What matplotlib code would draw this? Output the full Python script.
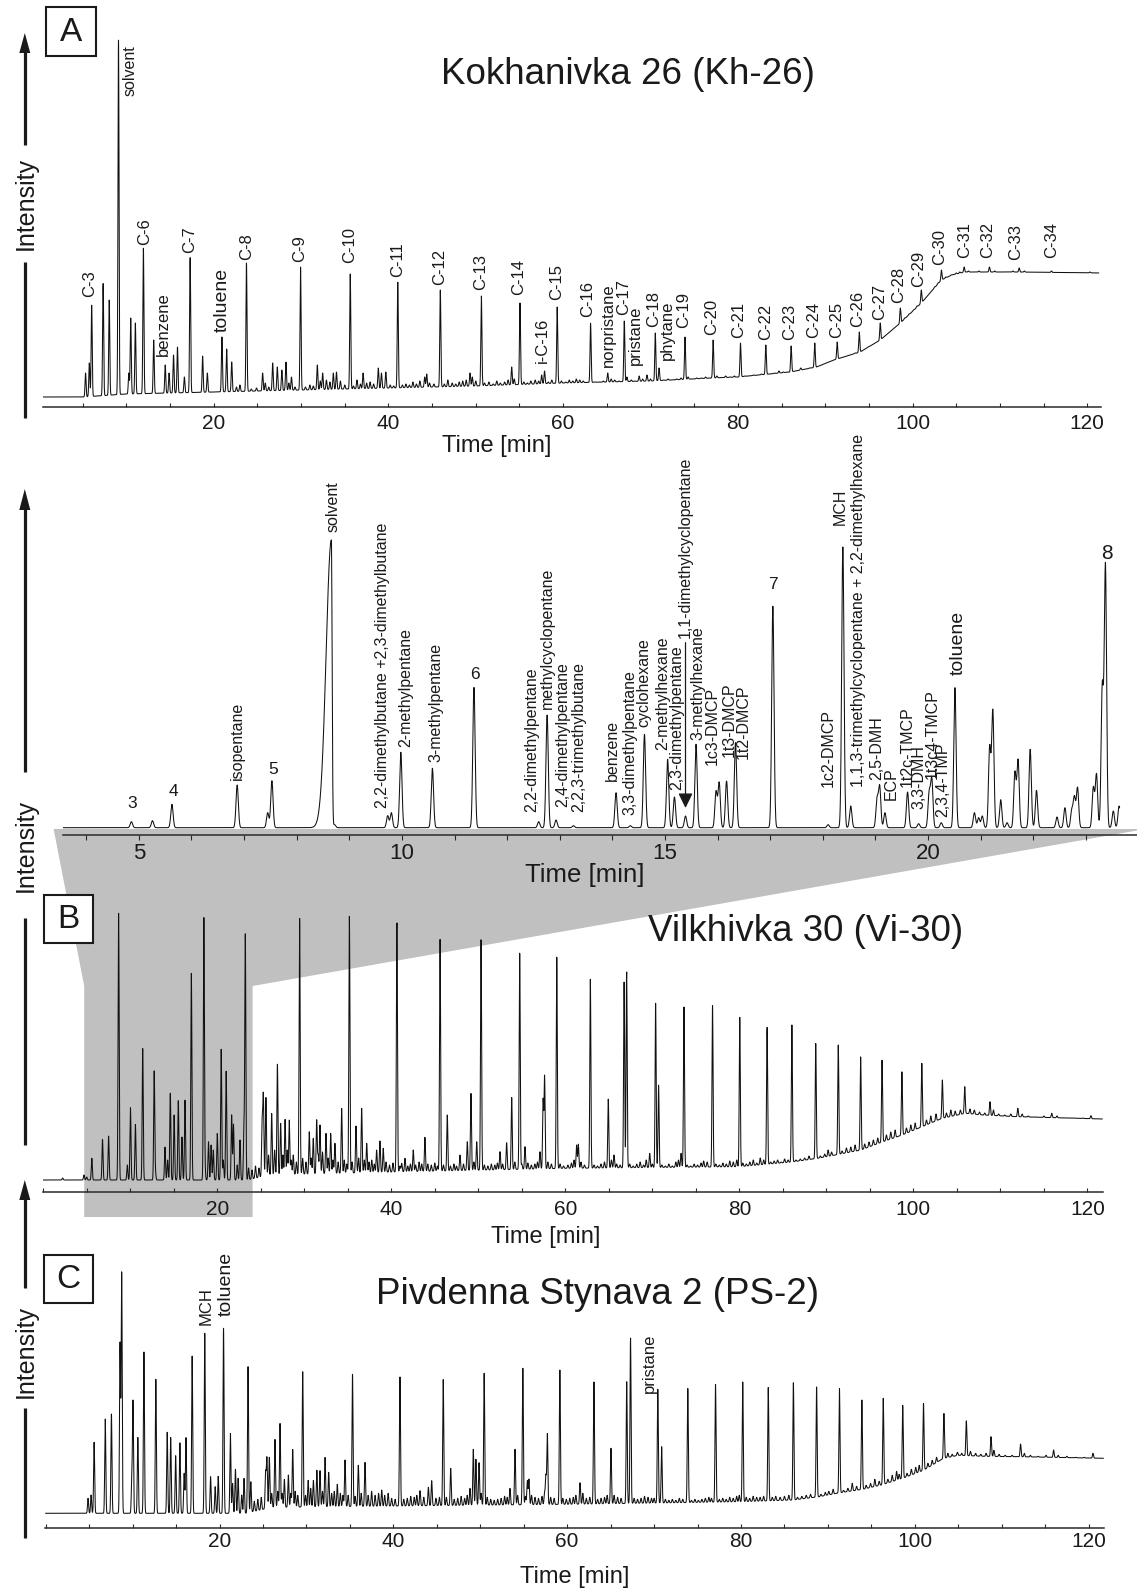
import numpy as np
import matplotlib
matplotlib.use("Agg")
import matplotlib.pyplot as plt
from matplotlib.patches import Polygon, Rectangle
from matplotlib.lines import Line2D
from matplotlib.ticker import MultipleLocator

W, H = 1137, 1591
INK = '#1a1a1a'
GREY = '#c0c0c0'
plt.rcParams['font.family'] = ['Liberation Sans', 'DejaVu Sans']

# ---------------------------------------------------------------- data
# peaks: (retention time [min], apex intensity [a.u.]); baselines: (time, level)
A_PEAKS = [
    (5.33, 24), (5.76, 34), (6.03, 92), (7.34, 114), (8.04, 97), (9.10, 357), (10.28, 24), (10.5, 79),
    (11.03, 74), (11.95, 149), (13.13, 57), (14.45, 32), (14.89, 24), (15.4, 42), (15.85, 50), (16.64, 20),
    (17.3, 140), (18.73, 41), (19.27, 24), (20.94, 60), (21.48, 48), (22.06, 35), (22.6, 10), (23.0, 12),
    (23.75, 134), (24.3, 8), (24.9, 9), (25.6, 24), (25.9, 14), (26.3, 10), (26.75, 34), (27.28, 30),
    (27.8, 27), (28.27, 35), (28.6, 14), (28.9, 20), (29.3, 10), (29.94, 130), (30.5, 10), (31.0, 12),
    (31.4, 11), (31.86, 32), (32.2, 16), (32.47, 24), (32.9, 17), (33.3, 15), (33.69, 24), (34.05, 25),
    (34.5, 16), (35.0, 12), (35.63, 123), (36.0, 11), (36.4, 17), (36.8, 13), (37.1, 24), (37.5, 14),
    (37.9, 15), (38.3, 13), (38.84, 29), (39.2, 24), (39.7, 25), (40.2, 12), (40.6, 11), (41.07, 115),
    (41.6, 12), (42.0, 13), (42.4, 12), (42.8, 15), (43.2, 13), (43.6, 16), (44.15, 20), (44.38, 23),
    (44.7, 14), (45.2, 13), (45.94, 107), (46.4, 13), (46.8, 17), (47.3, 14), (47.7, 13), (48.1, 15),
    (48.5, 16), (48.9, 17), (49.34, 24), (49.6, 20), (50.0, 16), (50.64, 101), (51.0, 14), (51.5, 15),
    (52.0, 13), (52.4, 16), (52.8, 14), (53.3, 15), (53.7, 17), (54.11, 30), (54.4, 18), (55.06, 94),
    (55.5, 15), (55.9, 14), (56.3, 16), (56.8, 17), (57.2, 16), (57.54, 22), (57.87, 26), (58.3, 15),
    (58.7, 17), (59.32, 90), (59.8, 16), (60.3, 15), (60.7, 17), (61.1, 16), (61.5, 18), (61.9, 17),
    (62.3, 16), (63.14, 74), (63.6, 15), (64.1, 15), (64.6, 16), (65.1, 24), (65.5, 18), (65.9, 17),
    (66.4, 16), (67.0, 76), (67.3, 20), (67.8, 17), (68.2, 16), (68.7, 21), (69.1, 18), (69.6, 22),
    (70.0, 18), (70.55, 64), (70.98, 29), (71.5, 17), (72.0, 18), (72.5, 17), (73.0, 18), (73.5, 19),
    (73.95, 60), (74.3, 20), (74.8, 18), (75.3, 19), (75.8, 19), (76.3, 20), (76.7, 19), (77.17, 57),
    (77.6, 21), (78.1, 19), (78.6, 21), (79.1, 20), (79.6, 21), (80.3, 54), (80.8, 21), (81.3, 21),
    (81.8, 22), (82.3, 22), (82.7, 23), (83.2, 52), (83.7, 23), (84.2, 24), (84.7, 26), (85.2, 25),
    (85.6, 25), (86.1, 51), (86.6, 26), (87.2, 29), (87.7, 28), (88.2, 29), (88.8, 54), (89.3, 31),
    (89.8, 32), (90.3, 33), (90.8, 35), (91.37, 55), (91.9, 38), (92.4, 40), (92.9, 42), (93.4, 44),
    (93.9, 65), (94.4, 47), (94.9, 50), (95.4, 52), (95.9, 55), (96.3, 74), (96.8, 60), (97.3, 63),
    (97.8, 68), (98.2, 71), (98.6, 89), (99.1, 79), (99.6, 83), (100.1, 87), (100.5, 91), (101.0, 107),
    (101.5, 98), (102.0, 104), (102.5, 110), (102.9, 114), (103.3, 127), (103.8, 120), (104.4, 122),
    (105.0, 124), (105.4, 125), (105.9, 130), (106.4, 126), (107.0, 125), (107.6, 126), (108.2, 125),
    (108.8, 130), (109.4, 126), (110.0, 125), (110.8, 125), (111.5, 126), (112.2, 129), (112.8, 126),
    (113.5, 124), (114.3, 124), (115.2, 124), (115.9, 126), (116.6, 124), (117.5, 123), (118.5, 123),
    (119.5, 124), (120.3, 125), (121.0, 124),
]
A_BASE = [(0, 0), (5, 0), (10, 3), (20, 5), (30, 7), (40, 9), (50, 11), (60, 14), (70, 16), (77, 19),
          (80, 20), (86, 25), (89, 30), (91, 37), (94, 45), (96.3, 57), (98.6, 74), (101, 94), (103.3, 117),
          (104.5, 122), (106, 125), (112, 125), (121.8, 124)]
A_LABELS = ['C-3', 'C-6', 'benzene', 'C-7', 'toluene', 'C-8', 'C-9', 'C-10', 'C-11', 'C-12', 'C-13',
            'C-14', 'i-C-16', 'C-15', 'C-16', 'norpristane', 'C-17', 'pristane', 'C-18', 'phytane', 'C-19',
            'C-20', 'C-21', 'C-22', 'C-23', 'C-24', 'C-25', 'C-26', 'C-27', 'C-28', 'C-29', 'C-30', 'C-31',
            'C-32', 'C-33', 'C-34']
A_LABEL_AT = [(5.83, 100), (12.1, 152), (14.29, 41), (17.22, 144), (20.95, 65), (23.79, 137), (29.84, 135),
              (35.53, 134), (41.09, 120), (45.9, 112), (50.52, 107), (54.9, 102), (57.66, 34), (59.27, 97),
              (62.77, 80), (65.13, 30), (66.98, 82), (68.27, 32), (70.41, 70), (71.91, 37), (73.8, 69),
              (77.0, 62), (80.13, 59), (83.22, 57), (85.92, 57), (88.71, 59), (91.28, 59), (93.76, 70),
              (96.21, 77), (98.35, 94), (100.71, 110), (103.15, 132), (105.98, 139), (108.63, 139),
              (111.77, 137), (115.92, 139)]
A_SOLVENT_AT = (10.43, 352)

# zoomed early part of Vilkhivka 30
IN_PEAKS = [
    (4.86, 6), (5.26, 7), (5.63, 23.4), (6.87, 42.7), (7.45, 15), (7.53, 47), (8.72, 3), (9.73, 12),
    (9.80, 15), (9.98, 75.4), (10.58, 59.4), (11.37, 140.4), (12.6, 6), (12.76, 112.7), (12.93, 7.7),
    (13.26, 2), (14.07, 35), (14.34, 2), (14.61, 93.4), (15.05, 68.4), (15.18, 30.7), (15.39, 11.7),
    (15.59, 83.4), (15.97, 36), (16.03, 45), (16.17, 46.7), (16.34, 85), (17.05, 221.7), (18.1, 3),
    (18.38, 280.7), (18.53, 21.7), (19.03, 28), (19.08, 40.7), (19.18, 15), (19.61, 35.7), (19.82, 4),
    (20.02, 34), (20.07, 48.4), (20.25, 5), (20.51, 140), (20.88, 15), (20.96, 10), (21.03, 11.7),
    (21.17, 80), (21.23, 116.7), (21.38, 28), (21.5, 5), (21.65, 55), (21.71, 67.4), (21.94, 78.4),
    (22.06, 37.4), (22.45, 10.7), (22.6, 20), (22.73, 17), (22.78, 30), (22.84, 40), (23.14, 40),
    (23.2, 53.4), (23.31, 140), (23.37, 261.7), (23.52, 16.7), (23.63, 21.7),
]
IN_SOLVENT = (8.66, 287.7)
IN_NUMBERS = ['3', '4', '5', '6', '7', '8']
IN_NUMBER_AT = [(4.87, 24), (5.65, 36), (7.55, 58), (11.38, 153), (17.06, 243), (23.39, 274)]
IN_LABELS = ['isopentane', 'solvent', '2,2-dimethylbutane +2,3-dimethylbutane', '2-methylpentane',
             '3-methylpentane', '2,2-dimethylpentane', 'methylcyclopentane', '2,4-dimethylpentane',
             '2,2,3-trimethylbutane', 'benzene', '3,3-dimethylpentane', 'cyclohexane', '2-methylhexane',
             '2,3-dimethylpentane', '1,1-dimethylcyclopentane', '3-methylhexane', '1c3-DMCP', '1t3-DMCP',
             '1t2-DMCP', '1c2-DMCP', 'MCH', '1,1,3-trimethylcyclopentane + 2,2-dimethylhexane', '2,5-DMH',
             'ECP', '1t2c-TMCP', '3,3-DMH', '1t3c4-TMCP', '2,3,4-TMP', 'toluene']
IN_LABEL_AT = [(6.87, 48), (8.69, 296), (9.64, 20), (10.07, 81), (10.65, 66), (12.47, 16), (12.76, 119),
               (13.05, 21), (13.36, 16), (14.01, 47), (14.34, 13), (14.59, 101), (14.95, 78), (15.22, 38),
               (15.39, 190), (15.62, 88), (15.89, 63), (16.22, 71), (16.48, 69), (18.11, 41), (18.33, 303),
               (18.68, 41), (19.02, 48), (19.30, 28), (19.61, 41), (19.82, 19), (20.08, 49), (20.28, 11),
               (20.57, 153)]
IN_ARROW = (15.39, 185, 19.7)   # time, from, to

B_PEAKS = [
    (2.24, 2), (4.69, 5), (5.0, 3), (5.59, 21.7), (6.82, 40.7), (7.52, 44), (8.67, 268), (9.67, 15),
    (10.03, 72.3), (10.6, 55.7), (11.44, 131.7), (12.76, 109), (12.9, 7), (14.0, 33), (14.3, 20),
    (14.61, 87.3), (15.05, 65), (15.53, 79.3), (15.95, 43), (16.3, 80), (17.03, 206.7), (18.47, 261.7),
    (18.6, 10), (19.0, 38.3), (19.3, 35), (19.55, 30), (20.01, 46.7), (20.46, 130.7), (20.7, 20),
    (21.03, 109.3), (21.66, 65), (21.87, 56), (22.3, 15), (22.62, 40), (23.07, 50.7), (23.23, 245),
    (23.6, 12), (24.0, 10), (24.4, 14), (24.8, 12), (25.16, 56.7), (25.3, 84), (25.6, 82.7), (25.9, 25),
    (26.26, 66.7), (26.6, 30), (26.92, 116), (27.29, 56.7), (27.55, 25), (27.8, 60.7), (28.05, 30),
    (28.28, 60), (28.5, 20), (28.74, 25), (29.1, 18), (29.47, 261.7), (29.82, 21.7), (30.2, 18),
    (30.58, 48.3), (30.8, 22), (31.04, 41.7), (31.43, 60), (31.6, 25), (31.81, 55), (32.1, 28),
    (32.5, 46.7), (32.75, 22), (33.04, 46.7), (33.3, 20), (33.53, 36.7), (33.9, 18), (34.3, 71.7),
    (34.6, 20), (34.9, 16), (35.19, 265), (35.5, 18), (35.95, 54), (36.25, 22), (36.6, 71.7), (36.9, 20),
    (37.18, 36.7), (37.45, 18), (37.76, 20), (38.05, 16), (38.32, 30), (38.7, 39), (39.08, 31.7),
    (39.4, 18), (39.8, 15), (40.2, 17), (40.65, 258.3), (41.0, 14), (41.2, 16.7), (41.58, 21.7),
    (41.9, 14), (42.2, 16), (42.53, 30), (42.8, 15), (43.2, 18), (43.5, 16), (43.87, 42.7), (44.2, 16),
    (44.6, 15), (45.0, 17), (45.3, 14), (45.61, 240.7), (46.0, 15), (46.44, 65), (46.8, 14), (47.2, 16),
    (47.5, 14), (47.9, 25), (48.3, 16), (48.74, 38.3), (49.16, 86.7), (49.5, 18), (49.82, 38.3),
    (50.32, 240.7), (50.7, 15), (51.1, 14), (51.5, 16), (51.9, 15), (52.2, 17), (52.5, 28.3), (52.8, 16),
    (53.26, 37.3), (53.84, 82.7), (54.2, 18), (54.76, 227.3), (55.0, 16), (55.37, 33.3), (55.7, 17),
    (56.1, 15), (56.5, 16), (56.8, 18), (57.09, 28.3), (57.45, 80), (57.62, 104), (58.0, 18), (58.4, 16),
    (59.02, 223.3), (59.4, 16), (59.8, 14), (60.3, 15), (60.7, 17), (61.0, 20), (61.3, 35), (61.5, 35.7),
    (61.8, 18), (62.2, 15), (62.88, 200.7), (63.3, 15), (63.7, 14), (64.1, 16), (64.5, 18), (64.94, 81),
    (65.3, 20), (65.6, 25), (65.9, 16), (66.3, 15), (66.76, 198.3), (67.05, 209), (67.4, 16), (67.8, 14),
    (68.2, 16), (68.6, 18), (69.0, 15), (69.3, 20), (69.7, 26.7), (70.0, 16), (70.38, 176.7),
    (70.72, 95), (71.1, 15), (71.5, 14), (71.9, 16), (72.3, 14), (72.7, 18), (73.0, 20), (73.3, 26.7),
    (73.64, 173.3), (74.0, 15), (74.4, 14), (74.8, 16), (75.2, 15), (75.6, 17), (75.9, 19), (76.3, 18),
    (76.92, 174.3), (77.3, 16), (77.7, 15), (78.1, 17), (78.5, 16), (78.9, 19), (79.3, 18), (79.7, 20),
    (80.05, 162.7), (80.4, 17), (80.8, 16), (81.2, 18), (81.6, 20), (82.0, 17), (82.4, 22), (82.8, 20),
    (83.19, 153.3), (83.6, 18), (84.0, 19), (84.4, 20), (84.8, 18), (85.2, 21), (85.6, 20), (86.04, 155),
    (86.5, 20), (87.0, 21), (87.5, 22), (88.0, 24), (88.78, 136.7), (89.3, 24), (89.8, 26), (90.2, 30),
    (90.6, 28), (91.37, 135), (91.8, 29), (92.3, 32), (92.8, 33), (93.3, 35), (93.94, 123.3), (94.4, 36),
    (94.9, 38), (95.4, 40), (95.9, 42), (96.4, 120), (96.9, 45), (97.4, 48), (97.9, 50), (98.68, 108.3),
    (99.2, 52), (99.7, 55), (100.2, 57), (100.97, 116.7), (101.5, 60), (102.0, 64), (102.6, 66),
    (103.33, 100), (103.8, 67), (104.3, 70), (104.8, 69), (105.4, 70), (105.9, 93.3), (106.5, 71),
    (107.0, 70), (107.6, 68), (108.2, 67), (108.8, 78.3), (109.2, 70), (109.8, 66), (110.5, 65),
    (111.2, 66), (112.0, 71.7), (112.5, 66), (113.2, 64), (114.0, 63), (115.0, 64), (115.9, 66.7),
    (116.5, 64), (117.5, 62), (118.5, 62), (119.5, 62), (120.4, 64.3),
]
B_BASE = [(0, 0), (23.5, 0), (26, 5), (40, 8), (60, 11.7), (80, 13.3), (86, 18), (89, 21.7), (91, 25),
          (94, 30), (96, 36.7), (98.7, 45), (101, 53.3), (103.3, 61.7), (106, 66.7), (108, 65),
          (112, 63.3), (121.8, 61)]

C_PEAKS = [
    (4.87, 15), (5.22, 18.3), (5.57, 71), (6.85, 94.3), (7.56, 99.3), (8.55, 170), (8.74, 240.6),
    (9.9, 30), (10.04, 111.6), (10.6, 76), (11.3, 161.6), (12.67, 134), (13.98, 81), (14.38, 76),
    (14.95, 57.6), (15.44, 70.6), (15.93, 40), (16.14, 75.6), (16.85, 157.3), (18.3, 180), (18.97, 36.6),
    (19.5, 26.6), (19.85, 37), (20.46, 185), (21.25, 80), (21.5, 30), (21.83, 44), (22.14, 35),
    (22.55, 18.3), (22.82, 35), (23.28, 146.6), (23.6, 31.6), (24.0, 12), (24.4, 14), (24.8, 16),
    (25.3, 40.6), (25.45, 55), (25.73, 56), (26.0, 20), (26.38, 74), (26.7, 22), (26.96, 90), (27.2, 20),
    (27.46, 34), (27.92, 38.3), (28.2, 20), (28.42, 64), (28.7, 22), (29.0, 18), (29.57, 141.6),
    (29.9, 18), (30.2, 33), (30.49, 25), (30.8, 33), (31.2, 43), (31.56, 42.6), (31.85, 22), (32.14, 56),
    (32.56, 41), (32.9, 20), (33.2, 22), (33.55, 29), (33.9, 20), (34.2, 18), (34.44, 53.3), (34.8, 18),
    (35.3, 139.3), (35.6, 17), (35.97, 48.3), (36.3, 20), (36.74, 51), (37.1, 18), (37.5, 22), (37.9, 18),
    (38.3, 20), (38.66, 23.3), (39.0, 18), (39.4, 20), (39.8, 15), (40.2, 14), (40.76, 136.6), (41.2, 14),
    (41.6, 15), (42.0, 17), (42.4, 16), (42.7, 18), (43.07, 22.6), (43.5, 16), (44.03, 26), (44.41, 32.6),
    (44.9, 15), (45.3, 16), (45.74, 134), (46.1, 16), (46.6, 45), (47.0, 14), (47.4, 15), (47.8, 17),
    (48.2, 15), (48.5, 18), (48.82, 25), (49.2, 64), (49.5, 54), (49.86, 50.6), (50.1, 20), (50.45, 140),
    (50.8, 16), (51.2, 14), (51.6, 13), (52.0, 14), (52.4, 15), (52.8, 17), (53.1, 16), (53.42, 25),
    (54.0, 64), (54.3, 18), (54.9, 145), (55.2, 17), (55.42, 32.6), (55.6, 34), (55.9, 18), (56.3, 16),
    (56.7, 15), (57.1, 17), (57.4, 20), (57.55, 37.3), (57.72, 79.3), (58.1, 16), (58.5, 15),
    (59.16, 143.3), (59.5, 15), (59.9, 14), (60.3, 15), (60.7, 16), (61.0, 18), (61.48, 30.6), (61.8, 20),
    (62.2, 15), (62.6, 16), (63.08, 131.6), (63.5, 14), (63.9, 15), (64.3, 16), (64.6, 18), (65.04, 65),
    (65.4, 18), (65.8, 16), (66.2, 15), (66.85, 131.6), (67.29, 176), (67.7, 15), (68.1, 14), (68.5, 15),
    (68.9, 17), (69.3, 16), (69.7, 15), (70.0, 15), (70.43, 124), (70.87, 66.6), (71.3, 14), (71.7, 13),
    (72.1, 14), (72.5, 13), (72.9, 15), (73.3, 14), (73.88, 125), (74.3, 13), (74.7, 14), (75.1, 13),
    (75.5, 14), (75.9, 15), (76.3, 16), (76.6, 15), (77.07, 129.3), (77.5, 14), (77.9, 15), (78.3, 14),
    (78.7, 16), (79.1, 15), (79.5, 17), (79.8, 18), (80.2, 131.6), (80.6, 16), (81.0, 15), (81.4, 17),
    (81.8, 16), (82.2, 16), (82.6, 17), (83.14, 126), (83.6, 16), (84.0, 17), (84.5, 16), (85.0, 17),
    (85.5, 18), (86.03, 130.6), (86.5, 16), (87.0, 17), (87.5, 18), (88.0, 19), (88.7, 126.6), (89.2, 19),
    (89.7, 21), (90.1, 22), (90.6, 24), (91.33, 125), (91.8, 23), (92.3, 25), (92.8, 30), (93.3, 27),
    (93.91, 113.3), (94.4, 28), (94.9, 30), (95.4, 34), (95.9, 32), (96.37, 115), (96.9, 34), (97.4, 38),
    (97.9, 42), (98.2, 39), (98.61, 108.3), (99.1, 40), (99.6, 44), (100.1, 46), (100.5, 48), (101.0, 110),
    (101.5, 50), (102.0, 53), (102.5, 56), (103.35, 100), (103.8, 60), (104.3, 59), (104.9, 61),
    (105.4, 60), (105.93, 92.6), (106.4, 62), (107.0, 60), (107.6, 59), (108.2, 60), (108.77, 76.6),
    (109.1, 63), (109.7, 59), (110.4, 58), (111.2, 58), (112.17, 69.3), (112.6, 60), (113.3, 58),
    (114.2, 57), (115.1, 58), (115.97, 63.3), (116.5, 58), (117.5, 57), (118.5, 56), (119.5, 56),
    (120.5, 60),
]
C_BASE = [(0, 0), (23, 0), (26, 6), (40, 7.3), (60, 9), (80, 11.6), (86, 13.3), (89, 16.6), (91, 20),
          (94, 24), (96, 28), (98.6, 35), (101, 43), (103.3, 55), (105, 58), (108, 57), (112, 56.6),
          (121.8, 55)]
C_LABELS = ['MCH', 'toluene']
C_LABEL_AT = [(18.43, 188), (20.72, 197)]
C_PRISTANE_AT = (68.58, 180)

TITLES = ['Kokhanivka 26 (Kh-26)', 'Vilkhivka 30 (Vi-30)', 'Pivdenna Stynava 2 (PS-2)']
PANEL_TAGS = ['A', 'B', 'C']


# ---------------------------------------------------------------- helpers
def fx(x):
    return x / W


def fy(y):
    return 1 - y / H


def axes_px(fig, left, right, top, bottom):
    ax = fig.add_axes([fx(left), fy(bottom), (right - left) / W, (bottom - top) / H])
    ax.set_facecolor('none')
    for side in ('top', 'left', 'right'):
        ax.spines[side].set_visible(False)
    ax.spines['bottom'].set_color('#2a2a2a')
    ax.spines['bottom'].set_linewidth(1.1)
    ax.set_yticks([])
    return ax


def chromatogram(t, peaks, base, sigma):
    bt, bh = zip(*base)
    y = np.interp(t, bt, bh)
    for pt, ph in peaks:
        amp = ph - np.interp(pt, bt, bh)
        if amp > 0:
            y = y + amp * np.exp(-0.5 * ((t - pt) / sigma) ** 2)
    return y


def main_axis(ax, xlim, ylim, pad):
    ax.set_xlim(*xlim)
    ax.set_ylim(*ylim)
    ax.xaxis.set_minor_locator(MultipleLocator(5))
    ax.set_xticks([20, 40, 60, 80, 100, 120])
    ax.tick_params(axis='x', which='both', direction='in', length=3, width=0.8,
                   color='#2a2a2a', labelsize=15, labelcolor=INK, pad=pad)


def rot_labels(ax, texts, spots, size=11.5, va='bottom'):
    for s, (t, h) in zip(texts, spots):
        fs = 14 if s == 'toluene' else size
        ax.text(t, h, s, rotation=90, ha='center', va=va, fontsize=fs, color=INK)


def fig_line(fig, x, y0, y1, lw=2.3):
    fig.add_artist(Line2D([fx(x), fx(x)], [fy(y0), fy(y1)], transform=fig.transFigure,
                          color=INK, lw=lw, solid_capstyle='butt'))


def fig_head(fig, x, tip, base, half=5.5):
    fig.add_artist(Polygon([(fx(x), fy(tip)), (fx(x - half), fy(base)), (fx(x + half), fy(base))],
                           closed=True, transform=fig.transFigure, facecolor=INK, edgecolor='none'))


def tag_box(fig, letter, left, top, right, bottom):
    fig.add_artist(Rectangle((fx(left), fy(bottom)), (right - left) / W, (bottom - top) / H,
                             transform=fig.transFigure, facecolor='white', edgecolor=INK,
                             lw=1.5, zorder=3))
    fig.text(fx((left + right) / 2), fy((top + bottom) / 2 + 1), letter, ha='center', va='center',
             fontsize=24, color=INK, zorder=4)


fig = plt.figure(figsize=(W / 100, H / 100), dpi=100)

# grey zoom funnel between the inset and the B panel
funnel = [(53.6, 829), (1137, 829), (1137, 830.5), (252.6, 986), (252.6, 1217),
          (84.2, 1217), (84.2, 986)]
fig.add_artist(Polygon([(fx(x), fy(y)) for x, y in funnel], closed=True, transform=fig.transFigure,
                       facecolor=GREY, edgecolor='none', zorder=-10))

# ---------------------------------------------------------------- panel A
axA = axes_px(fig, 42.9, 1101, 30, 407)
main_axis(axA, (0.446, 121.57), (-10, 367), pad=5)
tA = np.arange(0.446, 121.3, 0.012)
axA.plot(tA, chromatogram(tA, A_PEAKS, A_BASE, 0.06), color='#111111', lw=0.75)
rot_labels(axA, A_LABELS, A_LABEL_AT, size=12)
axA.text(*A_SOLVENT_AT, 'solvent', rotation=90, ha='center', va='top', fontsize=11.5, color=INK)

# ---------------------------------------------------------------- inset (early part of B)
axI = axes_px(fig, 63, 1137, 480, 835)
axI.set_xlim(3.56, 23.97)
axI.set_ylim(-7.3, 347.7)
axI.set_xticks([5, 10, 15, 20])
axI.xaxis.set_minor_locator(MultipleLocator(1))
axI.tick_params(axis='x', which='both', direction='out', length=3.6, width=0.8, color='#2a2a2a',
                labelsize=16, labelcolor=INK, pad=2.5)
tI = np.arange(3.56, 23.64, 0.003)
yI = chromatogram(tI, IN_PEAKS, [(3.56, 0), (23.97, 0)], 0.022)
s0, h0 = IN_SOLVENT
yI = yI + h0 * np.exp(-0.5 * ((tI - s0) / np.where(tI < s0, 0.1, 0.014)) ** 2)
axI.plot(tI, yI, color='#111111', lw=0.75)
rot_labels(axI, IN_LABELS, IN_LABEL_AT)
for s, (t, h) in zip(IN_NUMBERS, IN_NUMBER_AT):
    axI.text(t, h, s, ha='center', va='center', fontsize=15 if s == '8' else 12.5, color=INK)
at, a0, a1 = IN_ARROW
axI.annotate('', xy=(at, a1), xytext=(at, a0),
             arrowprops=dict(arrowstyle='-|>,head_length=0.45,head_width=0.22', color=INK,
                             lw=0.9, mutation_scale=20, shrinkA=0, shrinkB=0))

# ---------------------------------------------------------------- panel B
axB = axes_px(fig, 42.9, 1103, 890, 1192.3)
main_axis(axB, (-0.03, 121.79), (-12.3, 290), pad=5.5)
tB = np.arange(0, 121.7, 0.012)
axB.plot(tB, chromatogram(tB, B_PEAKS, B_BASE, 0.06), color='#111111', lw=0.75)

# ---------------------------------------------------------------- panel C
axC = axes_px(fig, 45.2, 1104, 1240, 1528.3)
main_axis(axC, (-0.06, 121.77), (-15, 273.3), pad=2.5)
tC = np.arange(0, 121.7, 0.012)
axC.plot(tC, chromatogram(tC, C_PEAKS, C_BASE, 0.06), color='#111111', lw=0.75)
rot_labels(axC, C_LABELS, C_LABEL_AT, size=12)
axC.text(*C_PRISTANE_AT, 'pristane', rotation=90, ha='left', va='top', fontsize=12, color=INK)

# ---------------------------------------------------------------- figure-level text
for title, (x, y) in zip(TITLES, [(628, 74), (805.5, 931), (597, 1294)]):
    fig.text(fx(x), fy(y), title, ha='center', va='center', fontsize=26.5, color=INK)

for (x, y), fs in zip([(497, 446), (585, 875), (546, 1237), (575, 1577)], [17, 18.5, 17, 17]):
    fig.text(fx(x), fy(y), 'Time [min]', ha='center', va='center', fontsize=fs, color=INK)

for tag, box in zip(PANEL_TAGS, [(46, 7, 96, 56), (44, 895, 92.6, 943), (44, 1255, 93, 1303)]):
    tag_box(fig, tag, *box)

# intensity arrows
XI = 24.8
fig_head(fig, XI, 33, 53)
fig_line(fig, XI, 52, 145)
fig_line(fig, XI, 262, 418)
fig_head(fig, XI, 489, 510)
fig_line(fig, XI, 509, 772)
fig_line(fig, XI, 918, 1145)
fig_head(fig, XI, 1180, 1200)
fig_line(fig, XI, 1199, 1288)
fig_line(fig, XI, 1408, 1538)
for y in (203, 845, 1352):
    fig.text(fx(XI + 1), fy(y), 'Intensity', rotation=90, ha='center', va='center',
             fontsize=18, color=INK)

fig.savefig('out.png', dpi=100)
